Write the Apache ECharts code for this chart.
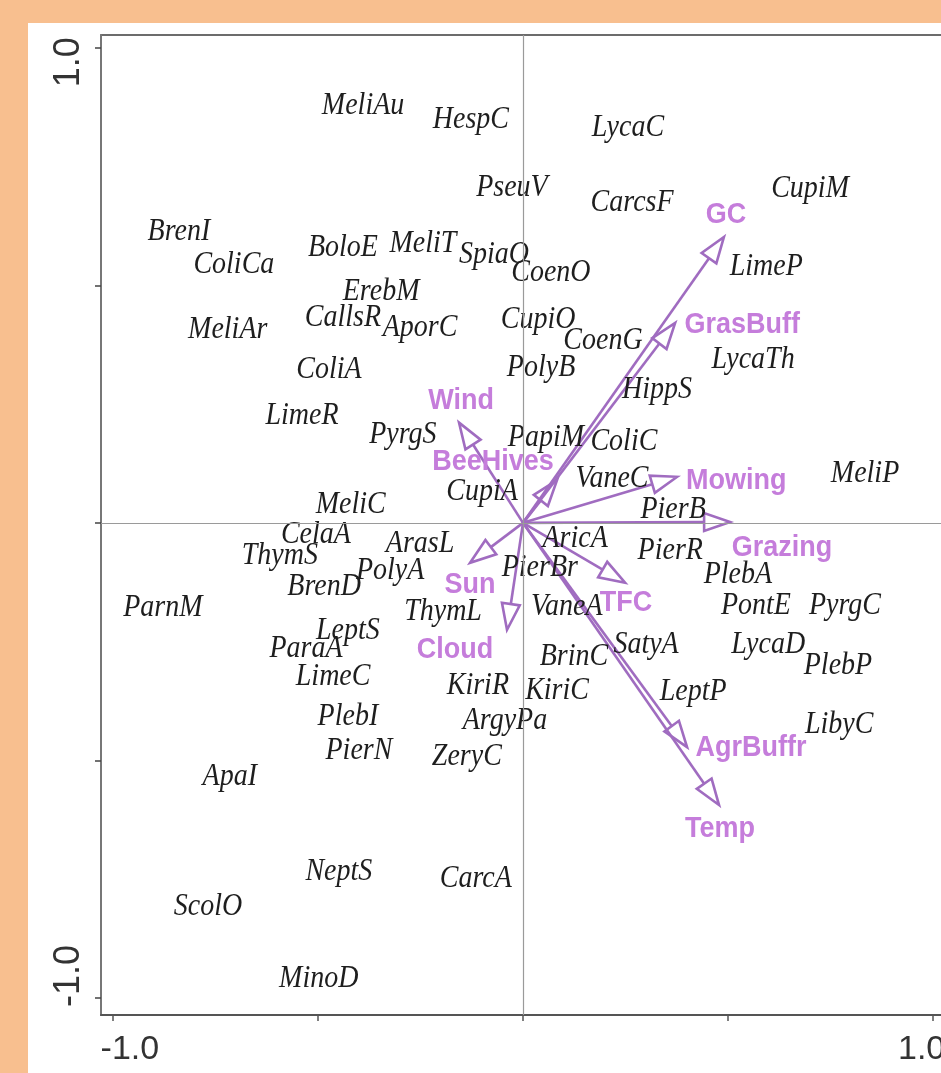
<!DOCTYPE html>
<html>
<head>
<meta charset="utf-8">
<title>CCA ordination biplot</title>
<script src="https://cdn.jsdelivr.net/npm/echarts@6/dist/echarts.min.js"></script>
<style>
  html, body { margin: 0; padding: 0; background: #F8BF8F; width: 941px; height: 1073px; overflow: hidden; }
  #chart { position: absolute; left: 28px; top: 23px; width: 913px; height: 1050px; background: #ffffff; }
</style>
</head>
<body>
<div id="chart"></div>
<script>
// Species scores (axis 1, axis 2)
var speciesNames = ['MeliAu','HespC','LycaC','PseuV','CarcsF','CupiM','BrenI','ColiCa','BoloE','MeliT',
  'SpiaO','CoenO','LimeP','ErebM','CallsR','AporC','MeliAr','CupiO','CoenG','LycaTh',
  'PolyB','ColiA','HippS','LimeR','PyrgS','PapiM','ColiC','VaneC','MeliP','CupiA',
  'MeliC','PierB','CelaA','AricA','ArasL','PierR','ThymS','PierBr','PolyA','PlebA',
  'BrenD','PontE','PyrgC','VaneA','ParnM','ThymL','LeptS','SatyA','LycaD','ParaA',
  'BrinC','PlebP','LimeC','KiriR','KiriC','LeptP','PlebI','ArgyPa','LibyC','PierN',
  'ZeryC','ApaI','NeptS','CarcA','ScolO','MinoD'];
var speciesX = [-0.390,-0.127,0.256,-0.027,0.266,0.700,-0.839,-0.705,-0.439,-0.244,
  -0.071,0.068,0.593,-0.346,-0.439,-0.251,-0.720,0.037,0.195,0.561,
  0.044,-0.473,0.327,-0.539,-0.293,0.056,0.246,0.217,0.834,-0.100,
  -0.420,0.366,-0.505,0.127,-0.251,0.359,-0.593,0.041,-0.324,0.524,
  -0.485,0.568,0.785,0.107,-0.878,-0.195,-0.427,0.300,0.598,-0.529,
  0.124,0.768,-0.463,-0.110,0.083,0.415,-0.427,-0.044,0.771,-0.400,
  -0.137,-0.715,-0.449,-0.115,-0.768,-0.498];
var speciesY = [0.878,0.848,0.832,0.705,0.674,0.703,0.613,0.543,0.579,0.589,
  0.564,0.528,0.539,0.488,0.432,0.411,0.408,0.429,0.383,0.343,
  0.326,0.322,0.280,0.225,0.185,0.179,0.171,0.093,0.103,0.065,
  0.038,0.027,-0.025,-0.032,-0.044,-0.059,-0.069,-0.093,-0.101,-0.109,
  -0.133,-0.175,-0.175,-0.177,-0.179,-0.187,-0.227,-0.257,-0.257,-0.265,
  -0.282,-0.301,-0.324,-0.343,-0.352,-0.356,-0.408,-0.417,-0.425,-0.480,
  -0.491,-0.533,-0.733,-0.749,-0.808,-0.960];

// Environmental variable biplot scores (arrow tips)
var envNames = ['GC','GrasBuff','Mowing','Grazing','TFC','AgrBuffr','Temp','Cloud','Sun','Wind','BeeHives'];
var envX = [0.490,0.371,0.376,0.505,0.249,0.400,0.478,-0.039,-0.129,-0.156,0.083];
var envY = [0.602,0.421,0.097,0.002,-0.126,-0.472,-0.594,-0.225,-0.084,0.211,0.090];

// Axis ticks and labelled ticks
var tickValues = [-1, -0.5, 0, 0.5, 1];
var labelValues = [-1, 1];

// ---- layout / style ----
var ARROW_COLOR = '#a06cc0';
var ENV_LABEL_COLOR = '#c57ddb';
var HEAD_LEN = 26, HEAD_HALF = 9;
// label anchor offset from each arrow tip, in pixels
var envLabelOffset = [[2,-22],[67,2],[59,4],[52,26],[1,20],[64,1],[1,24],[-52,20],[0,22],[2,-22],[-64,-18]];

var chart = echarts.init(document.getElementById('chart'), null, { renderer: 'canvas' });

function axisLabelFmt(v, near, far) {
  return v < 0 ? '{' + near + '|-1.0}' : '{' + far + '|1.0}';
}

var option = {
  backgroundColor: '#ffffff',
  animation: false,
  grid: {
    left: 73, top: 12, width: 844, height: 980,
    show: true, borderColor: '#3c3c3c', borderWidth: 1.5,
    containLabel: false, outerBoundsMode: 'none'
  },
  xAxis: {
    type: 'value', min: -1.029, max: 1.029,
    axisLine: { show: true, onZero: false, lineStyle: { color: '#555', width: 2 } },
    axisTick: { show: true, inside: false, length: 6, customValues: tickValues, lineStyle: { color: '#555', width: 1.5 } },
    axisLabel: {
      show: true, customValues: labelValues, margin: 18,
      color: '#333', fontFamily: '"Liberation Sans", Arial, sans-serif', fontSize: 34,
      formatter: function (v) { return axisLabelFmt(v, 'lo', 'hi'); },
      rich: {
        lo: { padding: [0, 0, 0, 34], fontSize: 34, color: '#333', fontFamily: '"Liberation Sans", Arial, sans-serif' },
        hi: { padding: [0, 23, 0, 0], fontSize: 34, color: '#333', fontFamily: '"Liberation Sans", Arial, sans-serif' }
      }
    },
    splitLine: { show: false }
  },
  yAxis: {
    type: 'value', min: -1.036, max: 1.027,
    axisLine: { show: true, onZero: false, lineStyle: { color: '#777', width: 2 } },
    axisTick: { show: true, inside: false, length: 6, customValues: tickValues, lineStyle: { color: '#444', width: 1.5 } },
    axisLabel: {
      show: true, customValues: labelValues, margin: 14, rotate: 90,
      color: '#333', fontFamily: '"Liberation Sans", Arial, sans-serif', fontSize: 36,
      formatter: function (v) { return axisLabelFmt(v, 'lo', 'hi'); },
      rich: {
        lo: { padding: [0, 0, 0, 44], fontSize: 36, color: '#333', fontFamily: '"Liberation Sans", Arial, sans-serif' },
        hi: { padding: [0, 29, 0, 0], fontSize: 36, color: '#333', fontFamily: '"Liberation Sans", Arial, sans-serif' }
      }
    },
    splitLine: { show: false }
  },
  series: [
    {
      // environmental arrows with open heads
      type: 'custom',
      coordinateSystem: 'cartesian2d',
      silent: true,
      clip: false,
      z: 3,
      data: envX.map(function (x, i) { return [x, envY[i]]; }),
      renderItem: function (params, api) {
        var i = params.dataIndex;
        var o = api.coord([0, 0]);
        var t = api.coord([api.value(0), api.value(1)]);
        var dx = t[0] - o[0], dy = t[1] - o[1];
        var len = Math.sqrt(dx * dx + dy * dy);
        var ux = dx / len, uy = dy / len;
        var bx = t[0] - ux * HEAD_LEN, by = t[1] - uy * HEAD_LEN;
        var px = -uy * HEAD_HALF, py = ux * HEAD_HALF;
        var off = envLabelOffset[i];
        return {
          type: 'group',
          children: [
            { type: 'line', shape: { x1: o[0], y1: o[1], x2: bx, y2: by },
              style: { stroke: ARROW_COLOR, lineWidth: 2.6, fill: null } },
            { type: 'polygon', shape: { points: [[t[0], t[1]], [bx + px, by + py], [bx - px, by - py]] },
              style: { fill: 'rgba(0,0,0,0)', stroke: ARROW_COLOR, lineWidth: 2.6, lineJoin: 'miter' } },
            { type: 'text', x: t[0] + off[0], y: t[1] + off[1], scaleY: 1.1,
              style: { text: envNames[i], font: 'bold 27px "Liberation Sans", Arial, sans-serif',
                       fill: ENV_LABEL_COLOR, align: 'center', verticalAlign: 'middle' } }
          ]
        };
      },
      markLine: {
        silent: true,
        symbol: ['none', 'none'],
        label: { show: false },
        lineStyle: { color: '#9a9a9a', width: 1.2, type: 'solid' },
        data: [{ xAxis: 0 }, { yAxis: 0 }]
      }
    },
    {
      // species names at their scores
      type: 'custom',
      coordinateSystem: 'cartesian2d',
      silent: true,
      clip: false,
      z: 4,
      data: speciesX.map(function (x, i) { return [x, speciesY[i]]; }),
      renderItem: function (params, api) {
        var p = api.coord([api.value(0), api.value(1)]);
        return {
          type: 'text', x: p[0], y: p[1], scaleY: 1.15,
          style: { text: speciesNames[params.dataIndex],
                   font: 'italic 28px "Liberation Serif", "DejaVu Serif", serif',
                   fill: '#1e1e1e', align: 'center', verticalAlign: 'middle' }
        };
      }
    }
  ]
};
chart.setOption(option);
</script>
</body>
</html>
